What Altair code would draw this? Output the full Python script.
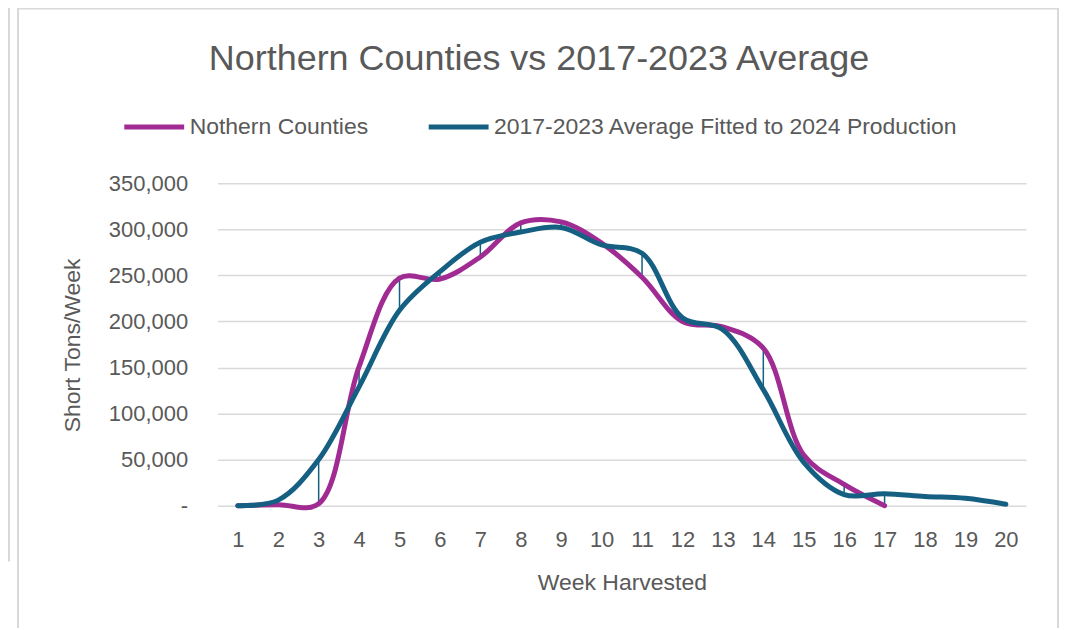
import altair as alt
import pandas as pd

weeks = list(range(1, 21))
north_weeks = list(range(1, 18))
north_vals = [0, 1000, 2000, 151000, 247000, 246000, 270000, 307000, 308000, 285000,
              248000, 200000, 194000, 171000, 55000, 23000, 0]
avg_vals = [0, 6000, 50000, 129000, 212000, 254000, 286000, 297000, 302000, 283000,
            274000, 204000, 191000, 126000, 47000, 12000, 13000, 10000, 8000, 1500]
series_names = ["Nothern Counties", "2017-2023 Average Fitted to 2024 Production"]
series_colors = ["#A02B93", "#156082"]
y_ticks = [0, 50000, 100000, 150000, 200000, 250000, 300000, 350000]
title_text = "Northern Counties vs 2017-2023 Average"

FONT = "Liberation Sans"
GREY = "#595959"

long_df = pd.concat([
    pd.DataFrame({"week": north_weeks, "value": north_vals, "series": series_names[0]}),
    pd.DataFrame({"week": weeks, "value": avg_vals, "series": series_names[1]}),
], ignore_index=True)

drop_df = pd.DataFrame({
    "week": north_weeks,
    "lo": [min(a, b) for a, b in zip(north_vals, avg_vals[:17])],
    "hi": [max(a, b) for a, b in zip(north_vals, avg_vals[:17])],
})

x_enc = alt.X("week:O", scale=alt.Scale(type="point", padding=0.5, domain=weeks),
              axis=alt.Axis(title="Week Harvested", labelAngle=0, grid=False, domain=False,
                            ticks=False, labelPadding=24, labelFontSize=22, labelFont=FONT,
                            labelColor=GREY, titleFont=FONT, titleFontSize=23,
                            titleFontWeight="normal", titleColor=GREY, titleY=77,
                            titleBaseline="middle"))
y_scale = alt.Scale(domain=[0, 350000], nice=False)

drops = alt.Chart(drop_df).mark_rule(color="#156082", strokeWidth=1.5).encode(
    x=x_enc,
    y=alt.Y("lo:Q", scale=y_scale),
    y2="hi:Q",
)

lines = alt.Chart(long_df).mark_line(strokeWidth=5, interpolate="catmull-rom",
                                      strokeCap="round", strokeJoin="round").encode(
    x=x_enc,
    y=alt.Y("value:Q", scale=y_scale,
            axis=alt.Axis(values=y_ticks, title="Short Tons/Week",
                          labelExpr="datum.value == 0 ? '-' : format(datum.value, ',')",
                          domain=False, ticks=False, labelPadding=30, labelFontSize=22,
                          labelFont=FONT, labelColor=GREY, gridColor="#d9d9d9",
                          gridWidth=1.5, titleFont=FONT, titleFontSize=23,
                          titleFontWeight="normal", titleColor=GREY, titleX=-145,
                          titleY=162, titleAngle=-90, titleBaseline="middle",
                          titleAlign="center")),
    color=alt.Color("series:N", scale=alt.Scale(domain=series_names, range=series_colors),
                    legend=alt.Legend(orient="none", legendX=-96, legendY=-89,
                                      direction="horizontal", title=None,
                                      symbolType="stroke", symbolSize=3600,
                                      symbolStrokeWidth=5, labelFontSize=23,
                                      labelFont=FONT, labelColor=GREY, labelLimit=800,
                                      columnPadding=50, labelOffset=3)),
    order="week:Q",
)

title = alt.Chart(pd.DataFrame({"t": [title_text]})).mark_text(
    font=FONT, fontSize=36, color=GREY, align="center", baseline="alphabetic"
).encode(text="t:N", x=alt.value(322), y=alt.value(-113))

border = alt.Chart(pd.DataFrame({"k": [0]})).mark_rect(
    fill=None, stroke="#d9d9d9", strokeWidth=2
).encode(x=alt.value(-200), x2=alt.value(842), y=alt.value(-175), y2=alt.value(470))

side = alt.Chart(pd.DataFrame({"k": [0]})).mark_rule(
    color="#d9d9d9", strokeWidth=2
).encode(x=alt.value(-209), y=alt.value(-190), y2=alt.value(379))

chart = alt.layer(border, side, drops, lines, title).properties(
    width=810, height=323,
    autosize=alt.AutoSizeParams(type="none"),
    padding={"left": 210, "top": 175, "right": 34, "bottom": 122},
).configure_view(stroke=None)

chart.save("out.html", embed_options={"renderer": "svg", "actions": False})
